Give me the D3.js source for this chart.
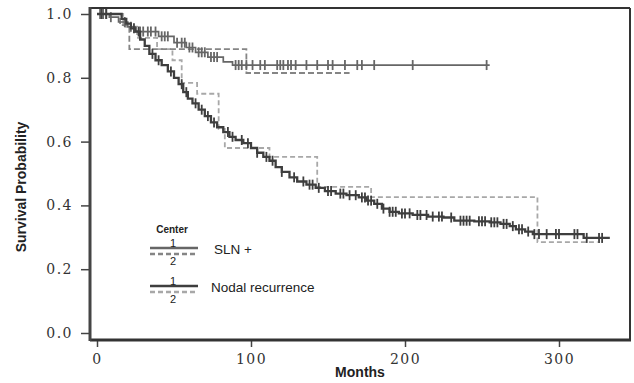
<!DOCTYPE html>
<meta charset="utf-8">
<style>
    body{ margin:0; background:#fff; }
    svg text{ fill:#222; }
    .tick text{ font-family:"DejaVu Serif", serif; font-size:14px; letter-spacing:1.5px; fill:#333; }
    .ttl{ font-family:"Liberation Sans", Arial, sans-serif; font-weight:bold; font-size:14px; }
    .leg{ font-family:"Liberation Sans", Arial, sans-serif; font-size:13.5px; }
    .legs{ font-family:"Liberation Sans", Arial, sans-serif; font-size:11px; }
</style>
<script src="https://d3js.org/d3.v7.min.js"></script>
<body>
<div id="chart"></div>
<script>
    // x ticks / y ticks
    xTicks = [0, 100, 200, 300]
    yTicks = [0, 0.2, 0.4, 0.6, 0.8, 1.0]

    // SLN+ , center 1 : [months, survival]
    sln1Steps = [[0,1],[8,0.99],[14,0.975],[20,0.96],[25,0.945],[40,0.93],[50,0.91],[58,0.895],
                 [64,0.88],[72,0.865],[82,0.85],[88,0.84]]
    sln1End = 255
    sln1Cens = [2,4,6,9,18,22,28,30,33,35,38,42,44,46,52,55,57,60,62,66,68,70,74,76,78,
                90,92,94,97,101,106,109,117,119,121,124,126,129,136,143,150,153,161,169,172,180,205,253]

    // SLN+ , center 2
    sln2Steps = [[0,1],[15,0.965],[21,0.89],[97,0.815]]
    sln2End = 164
    sln2Cens = []

    // Nodal recurrence , center 1
    nod1Steps = [[0,1],[16,0.985],[19,0.97],[22,0.955],[25,0.945],[28,0.92],[31,0.9],[34,0.875],
                 [38,0.855],[42,0.84],[46,0.82],[50,0.80],[53,0.78],[56,0.755],[59,0.735],[62,0.72],
                 [66,0.70],[70,0.68],[74,0.66],[78,0.645],[82,0.63],[86,0.615],[90,0.605],[95,0.595],
                 [100,0.58],[104,0.565],[108,0.552],[112,0.54],[116,0.52],[120,0.505],[125,0.488],
                 [130,0.475],[136,0.465],[142,0.455],[148,0.445],[155,0.437],[162,0.432],[170,0.425],
                 [175,0.415],[180,0.405],[185,0.39],[190,0.38],[196,0.375],[205,0.37],[215,0.365],
                 [225,0.362],[232,0.352],[245,0.35],[255,0.347],[262,0.342],[268,0.335],[272,0.325],
                 [278,0.318],[283,0.31],[316,0.298]]
    nod1End = 333
    nod1Cens = [3,6,24,27,36,40,48,55,58,64,68,72,76,85,88,94,98,104,110,114,120,128,134,138,140,144,
                150,152,158,160,164,168,172,174,176,178,182,186,190,192,194,198,200,203,208,210,214,
                218,222,224,230,236,238,240,242,248,250,252,256,258,260,264,266,270,274,276,280,284,
                287,292,298,300,310,312,318,326,328]

    // Nodal recurrence , center 2
    nod2Steps = [[0,1],[17,0.96],[26,0.925],[39,0.89],[49,0.855],[55,0.784],[65,0.75],[79,0.64],
                 [83,0.58],[112,0.552],[143,0.458],[178,0.426],[286,0.285]]
    nod2End = 325
    nod2Cens = []

    W = 634; H = 383
    svg = d3.select("#chart").append("svg")
            .attr("width", W).attr("height", H)

    x = d3.scaleLinear().domain([0, 300]).range([97, 559])
    y = d3.scaleLinear().domain([0, 1]).range([333, 14])

    // axes
    svg.append("g")
       .attr("transform", "translate(90,0)")
       .call(d3.axisLeft(y).tickValues(yTicks).tickFormat(d3.format(".1f")).tickSize(9).tickPadding(8))
       .call(g => g.select(".domain").remove())
       .call(g => g.selectAll("line").attr("stroke", "#444").attr("stroke-width", 1.5))

    svg.append("g")
       .attr("transform", "translate(0,340)")
       .call(d3.axisBottom(x).tickValues(xTicks).tickSize(7).tickPadding(7))
       .call(g => g.select(".domain").remove())
       .call(g => g.selectAll("line").attr("stroke", "#444").attr("stroke-width", 1.5))

    function stepPts(steps, end){
        var pts = steps.map(d => [d[0], d[1]])
        pts.push([end, steps[steps.length-1][1]])
        return pts
    }
    function survAt(steps, t){
        var v = steps[0][1]
        steps.forEach(d => { if(d[0] <= t) v = d[1] })
        return v
    }
    line = d3.line().x(d => x(d[0])).y(d => y(d[1])).curve(d3.curveStepAfter)

    function drawCurve(steps, end, cens, color, width, dash){
        svg.append("path")
           .attr("d", line(stepPts(steps, end)))
           .attr("fill", "none")
           .attr("stroke", color)
           .attr("stroke-width", width)
           .attr("stroke-dasharray", dash)
        svg.selectAll(null).data(cens).enter().append("line")
           .attr("x1", d => x(d)).attr("x2", d => x(d))
           .attr("y1", d => y(survAt(steps, d)) - 5)
           .attr("y2", d => y(survAt(steps, d)) + 5)
           .attr("stroke", color).attr("stroke-width", 1.8)
    }

    drawCurve(nod2Steps, nod2End, nod2Cens, "#a8a8a8", 1.8, "5,3")
    drawCurve(sln2Steps, sln2End, sln2Cens, "#858585", 1.8, "6,3")
    drawCurve(sln1Steps, sln1End, sln1Cens, "#666", 1.7, null)
    drawCurve(nod1Steps, nod1End, nod1Cens, "#3e3e3e", 2.3, null)

    // frame
    svg.append("line").attr("x1", 90).attr("x2", 630).attr("y1", 8).attr("y2", 8)
       .attr("stroke", "#333").attr("stroke-width", 2)
    svg.append("line").attr("x1", 630).attr("x2", 630).attr("y1", 8).attr("y2", 340)
       .attr("stroke", "#333").attr("stroke-width", 2)
    svg.append("line").attr("x1", 90).attr("x2", 631).attr("y1", 340).attr("y2", 340)
       .attr("stroke", "#333").attr("stroke-width", 3)
    svg.append("line").attr("x1", 90).attr("x2", 90).attr("y1", 7).attr("y2", 341)
       .attr("stroke", "#444").attr("stroke-width", 3)

    // titles
    svg.append("text").attr("class", "ttl")
       .attr("transform", "translate(26,187) rotate(-90)")
       .attr("text-anchor", "middle").text("Survival Probability")
    svg.append("text").attr("class", "ttl")
       .attr("x", 360).attr("y", 377).attr("text-anchor", "middle").text("Months")

    // legend
    legend = [
        {label:"SLN +", y:248, c1:"#666", c2:"#858585", lx:214},
        {label:"Nodal recurrence", y:286, c1:"#3e3e3e", c2:"#a8a8a8", lx:211}
    ]
    svg.append("text").attr("class", "legs").attr("x", 172).attr("y", 233)
       .attr("text-anchor", "middle").style("font-size", "10px").style("font-weight", "bold").text("Center")
    legend.forEach(function(l){
        svg.append("line").attr("x1", 150).attr("x2", 198).attr("y1", l.y).attr("y2", l.y)
           .attr("stroke", l.c1).attr("stroke-width", 2.4)
        svg.append("line").attr("x1", 150).attr("x2", 198).attr("y1", l.y+6).attr("y2", l.y+6)
           .attr("stroke", l.c2).attr("stroke-width", 2.4).attr("stroke-dasharray", "5,3")
        svg.append("text").attr("class", "legs").attr("x", 173).attr("y", l.y-1)
           .attr("text-anchor", "middle").text("1")
        svg.append("text").attr("class", "legs").attr("x", 173).attr("y", l.y+17)
           .attr("text-anchor", "middle").text("2")
        svg.append("text").attr("class", "leg").attr("x", l.lx).attr("y", l.y+6).text(l.label)
    })
</script>
</body>
